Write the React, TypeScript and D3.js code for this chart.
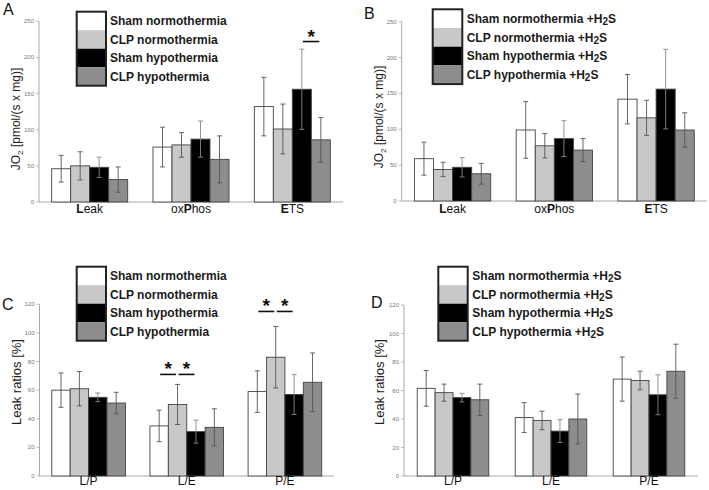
import React from "react";
import * as d3 from "d3";

// ---------- data ----------
const seriesNames = ["Sham normothermia", "CLP normothermia", "Sham hypothermia", "CLP hypothermia"];
const seriesFills = ["#ffffff", "#c8c8c8", "#000000", "#8d8d8d"];

const topCategories = ["Leak", "oxPhos", "ETS"];
const topBoldLetter = [0, 2, 0];
const bottomCategories = ["L/P", "L/E", "P/E"];

const topTicks = [0, 50, 100, 150, 200, 250];
const bottomTicks = [0, 20, 40, 60, 80, 100, 120];

// Panel A – means and SD per category (series order as seriesNames)
const aMeans = [[46, 50, 48, 31], [76, 79, 87, 59], [132, 101, 156, 86]];
const aSD = [[18.5, 19.5, 14, 17.5], [27.5, 17, 25, 32.5], [40.5, 34.5, 55.5, 31]];
// Panel B
const bMeans = [[59, 44, 47, 38], [99, 77, 87, 71], [142, 116, 156, 99]];
const bSD = [[23, 10, 13.5, 14.5], [39.5, 17, 25, 16], [34.5, 24.5, 55.5, 24]];
// Panel C
const cMeans = [[60, 61, 55, 51], [35, 50, 31, 34], [59, 83, 57, 65.5]];
const cSD = [[12, 12, 3, 7.5], [11, 14, 8, 13], [14.5, 21.5, 14, 20.5]];
// Panel D
const dMeans = [[61.5, 58.5, 55, 53.5], [41, 39, 31.5, 40], [68, 67, 57, 73.5]];
const dSD = [[12.5, 6, 3, 11], [10.5, 6.5, 8, 17.5], [15.5, 6.5, 14, 19]];

// significance marks: [category index, from series, to series, y value]
const aSig = [[2, 2, 3, 222]];
const cSig = [[1, 0, 1, 71], [1, 1, 2, 71], [2, 0, 1, 115], [2, 1, 2, 115]];

// ---------- layout ----------
const FONT = "'Liberation Sans', Arial, Helvetica, sans-serif";

type Cfg = {
  letter: string; letterX: number; letterY: number;
  x0: number; x1: number; yBase: number; yTop: number; yMax: number;
  ticks: number[]; cats: string[]; bold: number[] | null;
  means: number[][]; sd: number[][]; sig: number[][];
  pad: number; catY: number;
  yLabel: "jo2" | "leak"; yLabelX: number; yLabelY: number;
  legX: number; legY: number; legW: number; rowH: number; textX: number; h2s: boolean;
};

const panels: Cfg[] = [
  { letter: "A", letterX: 3, letterY: 15, x0: 39, x1: 343, yBase: 202, yTop: 21.3, yMax: 250,
    ticks: topTicks, cats: topCategories, bold: topBoldLetter, means: aMeans, sd: aSD, sig: aSig,
    pad: 0.25, catY: 213, yLabel: "jo2", yLabelX: 19.5, yLabelY: 119,
    legX: 76.7, legY: 11.7, legW: 29.3, rowH: 18.5, textX: 110, h2s: false },
  { letter: "B", letterX: 364, letterY: 18.5, x0: 401.7, x1: 707, yBase: 201, yTop: 21.7, yMax: 250,
    ticks: topTicks, cats: topCategories, bold: topBoldLetter, means: bMeans, sd: bSD, sig: [],
    pad: 0.25, catY: 213, yLabel: "jo2", yLabelX: 383, yLabelY: 117,
    legX: 432.7, legY: 9.3, legW: 29.6, rowH: 18.7, textX: 466.7, h2s: true },
  { letter: "C", letterX: 2, letterY: 310, x0: 39.5, x1: 334, yBase: 476, yTop: 304.3, yMax: 120,
    ticks: bottomTicks, cats: bottomCategories, bold: null, means: cMeans, sd: cSD, sig: cSig,
    pad: 0.25, catY: 485, yLabel: "leak", yLabelX: 20.5, yLabelY: 382,
    legX: 76.7, legY: 266.7, legW: 29.3, rowH: 18.5, textX: 110, h2s: false },
  { letter: "D", letterX: 371, letterY: 308, x0: 404, x1: 698, yBase: 476, yTop: 305, yMax: 120,
    ticks: bottomTicks, cats: bottomCategories, bold: null, means: dMeans, sd: dSD, sig: [],
    pad: 0.27, catY: 485, yLabel: "leak", yLabelX: 384, yLabelY: 382,
    legX: 438.3, legY: 266.7, legW: 29.4, rowH: 18.5, textX: 472.3, h2s: true },
];

function Panel({ c }: { c: Cfg }) {
  const y = d3.scaleLinear().domain([0, c.yMax]).range([c.yBase, c.yTop]);
  const x = d3.scaleBand<string>().domain(c.cats).range([c.x0, c.x1])
    .paddingInner(c.pad).paddingOuter(c.pad / 2);
  const xs = d3.scaleBand<number>().domain(d3.range(seriesNames.length)).range([0, x.bandwidth()]);
  const cx = (ci: number, si: number) => (x(c.cats[ci]) as number) + (xs(si) as number) + xs.bandwidth() / 2;

  return (
    <g fontFamily={FONT}>
      <text x={c.letterX} y={c.letterY} fontSize={16} fill="#111">{c.letter}</text>
      {/* y axis */}
      <line x1={c.x0} x2={c.x0} y1={c.yTop} y2={c.yBase} stroke="#aaa" strokeWidth={1} />
      {c.ticks.map((t) => (
        <g key={t}>
          <line x1={c.x0 - 3} x2={c.x0} y1={y(t)} y2={y(t)} stroke="#aaa" strokeWidth={0.8} />
          <text x={c.x0 - 5} y={y(t) + 2} fontSize={6} fill="#777" textAnchor="end">{t}</text>
        </g>
      ))}
      {/* x axis */}
      <line x1={c.x0} x2={c.x1} y1={c.yBase} y2={c.yBase} stroke="#aaa" strokeWidth={1} />
      {/* y label */}
      <text transform={`translate(${c.yLabelX},${c.yLabelY}) rotate(-90)`} textAnchor="middle"
        fontSize={c.yLabel === "jo2" ? 12 : 13} fill="#222">
        {c.yLabel === "jo2" ? (
          <>
            <tspan>JO</tspan>
            <tspan fontSize={8} dy={3}>2</tspan>
            <tspan dy={-3}> [pmol/(s x mg)]</tspan>
          </>
        ) : "Leak ratios [%]"}
      </text>
      {/* bars */}
      {c.means.map((row, ci) => row.map((v, si) => {
        const bx = (x(c.cats[ci]) as number) + (xs(si) as number);
        return (
          <rect key={`b${ci}-${si}`} x={bx} y={y(v)} width={xs.bandwidth()} height={c.yBase - y(v)}
            fill={seriesFills[si]} stroke="#444" strokeWidth={0.9} />
        );
      }))}
      {/* error bars */}
      {c.means.map((row, ci) => row.map((v, si) => {
        const e = c.sd[ci][si];
        const px = cx(ci, si);
        const col = si === 2 ? "#888" : "#555";
        return (
          <g key={`e${ci}-${si}`} stroke={col} strokeWidth={0.9}>
            <line x1={px} x2={px} y1={y(v + e)} y2={y(v - e)} />
            <line x1={px - 2.5} x2={px + 2.5} y1={y(v + e)} y2={y(v + e)} />
            <line x1={px - 2.5} x2={px + 2.5} y1={y(v - e)} y2={y(v - e)} />
          </g>
        );
      }))}
      {/* category labels */}
      {c.cats.map((cat, ci) => {
        const mid = (x(cat) as number) + x.bandwidth() / 2;
        if (c.bold) {
          const b = c.bold[ci];
          return (
            <text key={cat} x={mid} y={c.catY} textAnchor="middle" fontSize={12} fill="#111">
              <tspan>{cat.slice(0, b)}</tspan>
              <tspan fontWeight="bold">{cat[b]}</tspan>
              <tspan>{cat.slice(b + 1)}</tspan>
            </text>
          );
        }
        return <text key={cat} x={mid} y={c.catY} textAnchor="middle" fontSize={12} fill="#111">{cat}</text>;
      })}
      {/* significance */}
      {c.sig.map(([ci, s0, s1, v], i) => {
        const xa = cx(ci, s0) + 1;
        const xb = cx(ci, s1) - 1.5;
        return (
          <g key={`s${i}`}>
            <line x1={xa} x2={xb} y1={y(v)} y2={y(v)} stroke="#111" strokeWidth={1.6} />
            <text x={(xa + xb) / 2} y={y(v) + 1} textAnchor="middle" fontSize={19} fontWeight="bold" fill="#111">*</text>
          </g>
        );
      })}
      {/* legend */}
      {seriesNames.map((n, si) => (
        <g key={`l${si}`}>
          <rect x={c.legX} y={c.legY + si * c.rowH} width={c.legW} height={c.rowH}
            fill={seriesFills[si]} stroke="none" />
          <text x={c.textX} y={c.legY + si * c.rowH + c.rowH / 2 + 4.3} fontSize={12} fontWeight="bold" fill="#1a1a1a">
            {c.h2s ? (
              <>
                <tspan>{n} +H</tspan>
                <tspan fontSize={10} dy={2}>2</tspan>
                <tspan dy={-2}>S</tspan>
              </>
            ) : n}
          </text>
        </g>
      ))}
      <rect x={c.legX} y={c.legY} width={c.legW} height={c.rowH * seriesNames.length}
        fill="none" stroke="#222" strokeWidth={2} />
    </g>
  );
}

export default function App() {
  return (
    <svg width={709} height={490} style={{ display: "block", position: "absolute", left: 0, top: 0, background: "#fff" }}>
      <rect width={709} height={490} fill="#fff" />
      {panels.map((p) => <Panel key={p.letter} c={p} />)}
    </svg>
  );
}
